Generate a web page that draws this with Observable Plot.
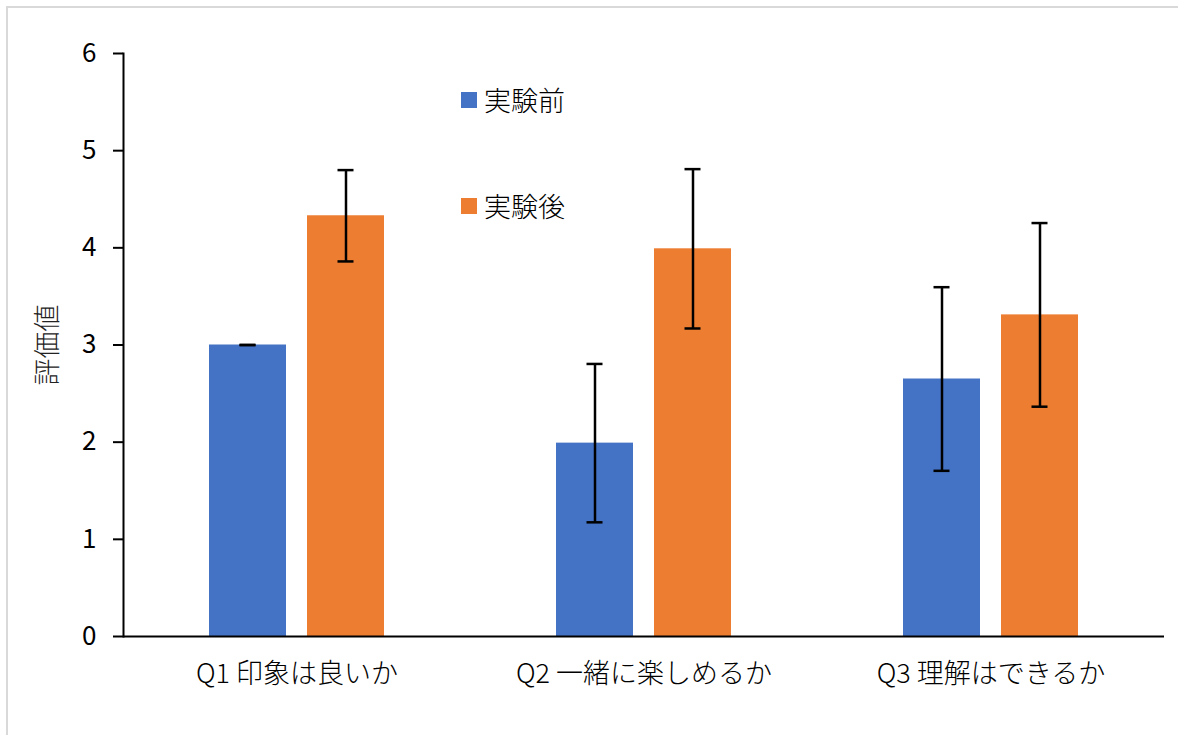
<!DOCTYPE html>
<html>
<head>
<meta charset="utf-8">
<script src="https://cdn.jsdelivr.net/npm/d3@7"></script>
<script src="https://cdn.jsdelivr.net/npm/@observablehq/plot@0.6"></script>
<style>
  html, body { margin: 0; padding: 0; background: #fff; }
  #wrap { position: relative; width: 1178px; height: 735px; overflow: hidden; font-family: 'Noto Sans CJK JP', sans-serif; }
  #border { position: absolute; left: 6px; top: 6px; width: 1200px; height: 800px; border-top: 2px solid #d9d9d9; border-left: 2px solid #d9d9d9; }
  #chart { position: absolute; left: 0; top: 0; }
  #chart text { font-weight: 300; }
  #chart g[aria-label="y-axis tick label"] text { font-weight: 400; }
  .leg { position: absolute; display: flex; align-items: center; font-size: 27px; font-weight: 300; color: #000; line-height: 1; }
  .sw { width: 16px; height: 16px; margin-right: 7px; }
</style>
</head>
<body>
<div id="wrap">
  <div id="border"></div>
  <div id="chart"></div>
  <div id="legend"></div>
</div>
<script>
const categories = ["Q1 印象は良いか", "Q2 一緒に楽しめるか", "Q3 理解はできるか"];
const seriesNames = ["実験前", "実験後"];
const beforeMean = [3.00, 1.99, 2.65];
const afterMean = [4.33, 3.99, 3.31];
const beforeErr = [0.00, 0.815, 0.945];
const afterErr = [0.47, 0.82, 0.945];
const yTicks = [0, 1, 2, 3, 4, 5, 6];
const colors = ["#4472C4", "#ED7D31"];

const rows = [];
categories.forEach((c, i) => {
  rows.push({cat: c, series: seriesNames[0], mean: beforeMean[i], lo: beforeMean[i] - beforeErr[i], hi: beforeMean[i] + beforeErr[i]});
  rows.push({cat: c, series: seriesNames[1], mean: afterMean[i], lo: afterMean[i] - afterErr[i], hi: afterMean[i] + afterErr[i]});
});

const chart = Plot.plot({
  width: 1178,
  height: 735,
  marginTop: 53,
  marginBottom: 99,
  marginLeft: 123,
  marginRight: 14,
  style: {fontFamily: "'Noto Sans CJK JP', sans-serif", fontSize: "25px", color: "#000", background: "transparent", overflow: "visible"},
  fx: {domain: categories, padding: 0, label: null},
  x: {domain: seriesNames, paddingInner: 0.214, paddingOuter: 0.877, axis: null},
  y: {domain: [0, 6], ticks: yTicks, label: null},
  color: {domain: seriesNames, range: colors},
  marks: [
    Plot.barY(rows, {fx: "cat", x: "series", y: "mean", fill: "series"}),
    Plot.ruleX(rows, {fx: "cat", x: "series", y1: "lo", y2: "hi", stroke: "#000", strokeWidth: 2.5}),
    Plot.tickY(rows, {fx: "cat", x: "series", y: "lo", stroke: "#000", strokeWidth: 2.5, insetLeft: 30.5, insetRight: 30.5}),
    Plot.tickY(rows, {fx: "cat", x: "series", y: "hi", stroke: "#000", strokeWidth: 2.5, insetLeft: 30.5, insetRight: 30.5}),
    Plot.ruleY([0], {stroke: "#000", strokeWidth: 2}),
    Plot.axisY({ticks: yTicks, tickSize: 10, tickPadding: 17, tickFormat: d => String(d), strokeWidth: 2, fontSize: 26, label: null}),
    Plot.axisY({ticks: [], tickSize: 0, label: "評価値", labelAnchor: "center", labelArrow: "none", labelOffset: 86, fontSize: 27, fill: "#222"}),
    Plot.axisFx({anchor: "bottom", tickSize: 0, tickPadding: 27, label: null, fontSize: 27}),
    Plot.frame({anchor: "left", facetAnchor: "left", stroke: "#000", strokeWidth: 2})
  ]
});
document.getElementById("chart").appendChild(chart);

const legend = document.getElementById("legend");
const legendTops = [86, 192];
seriesNames.forEach((s, i) => {
  const d = document.createElement("div");
  d.className = "leg";
  d.style.left = "461px";
  d.style.top = legendTops[i] + "px";
  const sw = document.createElement("div");
  sw.className = "sw";
  sw.style.background = colors[i];
  const t = document.createElement("span");
  t.textContent = s;
  d.appendChild(sw);
  d.appendChild(t);
  legend.appendChild(d);
});
</script>
</body>
</html>
